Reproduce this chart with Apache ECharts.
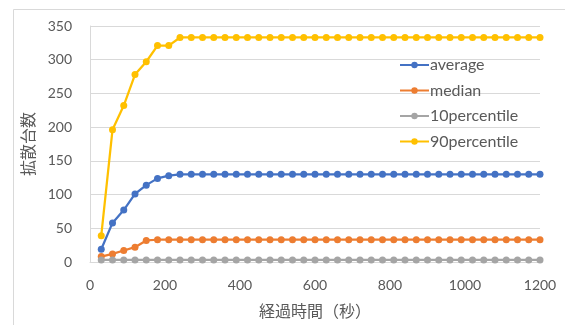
<!DOCTYPE html>
<html>
<head>
<meta charset="utf-8">
<script src="https://cdn.jsdelivr.net/npm/echarts@6/dist/echarts.min.js"></script>
<style>
  html, body { margin: 0; padding: 0; background: #fff; }
  #chart { width: 565px; height: 325px; }
</style>
</head>
<body>
<div id="chart"></div>
<script>
// Elapsed time in seconds (one sample every 30 s)
const seconds = [30, 60, 90, 120, 150, 180, 210, 240, 270, 300,
  330, 360, 390, 420, 450, 480, 510, 540, 570, 600,
  630, 660, 690, 720, 750, 780, 810, 840, 870, 900,
  930, 960, 990, 1020, 1050, 1080, 1110, 1140, 1170, 1200];

const average = [19, 58, 77, 101, 114, 124, 128, 130, 130, 130,
  130, 130, 130, 130, 130, 130, 130, 130, 130, 130,
  130, 130, 130, 130, 130, 130, 130, 130, 130, 130,
  130, 130, 130, 130, 130, 130, 130, 130, 130, 130];

const median = [8, 12, 17, 22, 32, 33, 33, 33, 33, 33,
  33, 33, 33, 33, 33, 33, 33, 33, 33, 33,
  33, 33, 33, 33, 33, 33, 33, 33, 33, 33,
  33, 33, 33, 33, 33, 33, 33, 33, 33, 33];

const p10 = [3, 3, 3, 3, 3, 3, 3, 3, 3, 3,
  3, 3, 3, 3, 3, 3, 3, 3, 3, 3,
  3, 3, 3, 3, 3, 3, 3, 3, 3, 3,
  3, 3, 3, 3, 3, 3, 3, 3, 3, 3];

const p90 = [39, 196, 232, 278, 297, 321, 321, 333, 333, 333,
  333, 333, 333, 333, 333, 333, 333, 333, 333, 333,
  333, 333, 333, 333, 333, 333, 333, 333, 333, 333,
  333, 333, 333, 333, 333, 333, 333, 333, 333, 333];

const seriesNames = ['average', 'median', '10percentile', '90percentile'];
const seriesColors = ['#4472C4', '#ED7D31', '#A5A5A5', '#FFC000'];
const seriesValues = [average, median, p10, p90];

const xTitle = '経過時間（秒）';
const yTitle = '拡散台数';

const textColor = '#595959';
const font = 'Lato, "Noto Sans CJK JP", sans-serif';

const pairs = vals => seconds.map((s, i) => [s, vals[i]]);

const chart = echarts.init(document.getElementById('chart'), null, { renderer: 'canvas' });

chart.setOption({
  animation: false,
  backgroundColor: '#ffffff',
  textStyle: { fontFamily: font },
  graphic: [{
    type: 'rect',
    shape: { x: 13.5, y: 9.5, width: 700, height: 500 },
    style: { fill: 'none', stroke: '#d9d9d9', lineWidth: 1 },
    silent: true,
    z: -10
  }],
  grid: { left: 90, right: 25, top: 26, bottom: 60, containLabel: false },
  legend: {
    data: seriesNames,
    orient: 'vertical',
    left: 394,
    top: 52,
    itemWidth: 29,
    itemHeight: 8,
    itemGap: 9.5,
    textStyle: { color: textColor, fontSize: 16, fontFamily: font, padding: [0, 0, 0, -4] }
  },
  xAxis: {
    type: 'value',
    min: 0,
    max: 1200,
    interval: 200,
    name: xTitle,
    nameLocation: 'middle',
    nameGap: 42,
    nameTextStyle: { color: textColor, fontSize: 16, fontFamily: font },
    axisLine: { show: true, lineStyle: { color: '#d9d9d9', width: 1 } },
    axisTick: { show: false },
    axisLabel: { color: textColor, fontSize: 14, margin: 16, fontFamily: font, formatter: v => String(v) },
    splitLine: { show: false }
  },
  yAxis: {
    type: 'value',
    min: 0,
    max: 350,
    interval: 50,
    name: yTitle,
    nameLocation: 'middle',
    nameGap: 50,
    nameRotate: 90,
    nameTextStyle: { color: textColor, fontSize: 16, fontFamily: font },
    axisLine: { show: true, lineStyle: { color: '#d9d9d9', width: 1 } },
    axisTick: { show: false },
    axisLabel: { color: textColor, fontSize: 14, margin: 18, fontFamily: font, formatter: v => String(v) },
    splitLine: { show: true, lineStyle: { color: '#d9d9d9', width: 1 } }
  },
  series: seriesNames.map((name, i) => ({
    name: name,
    type: 'line',
    data: pairs(seriesValues[i]),
    symbol: 'circle',
    symbolSize: 7,
    showSymbol: true,
    color: seriesColors[i],
    lineStyle: { width: 2.25, color: seriesColors[i] },
    itemStyle: { color: seriesColors[i] }
  }))
});
</script>
</body>
</html>
